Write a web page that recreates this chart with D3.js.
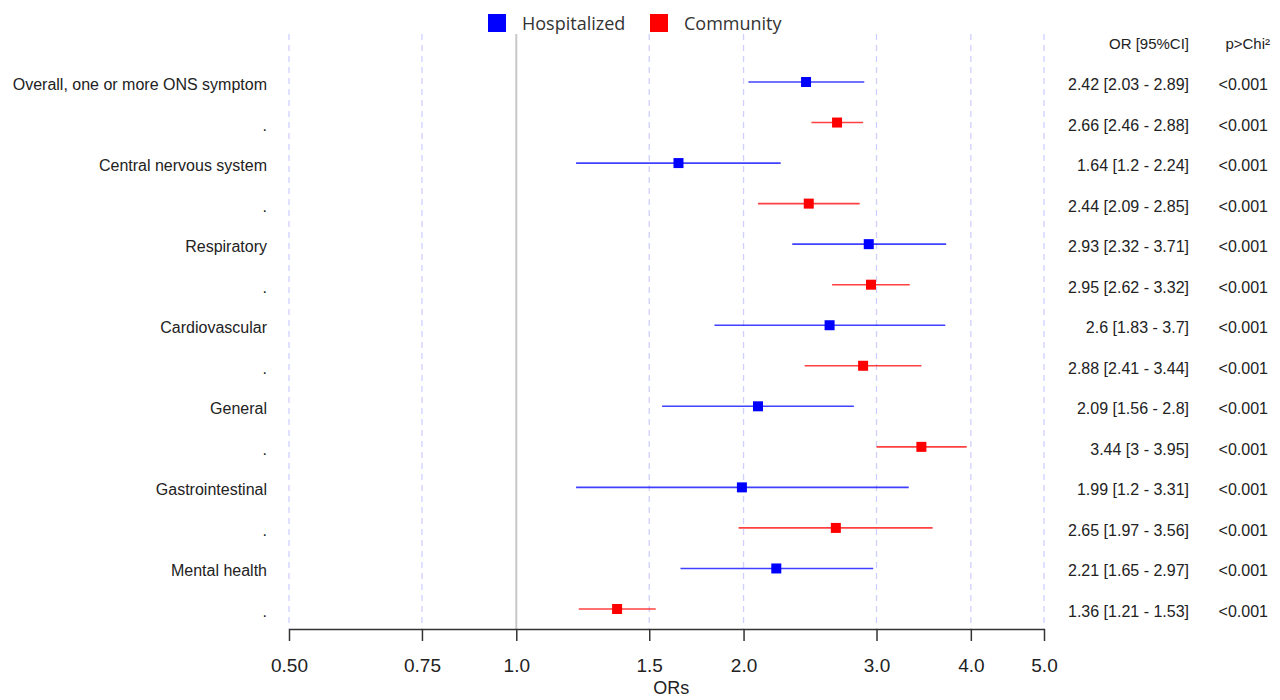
<!DOCTYPE html>
<html><head><meta charset="utf-8">
<script src="https://cdn.jsdelivr.net/npm/d3@7"></script>
<style>body{margin:0;background:#fff}svg{display:block}</style>
</head><body>
<svg id="c" width="1280" height="700"></svg>
<script>
const labels = ["Overall, one or more ONS symptom", ".", "Central nervous system", ".", "Respiratory", ".", "Cardiovascular", ".", "General", ".", "Gastrointestinal", ".", "Mental health", "."];
const groups = ["Hospitalized","Community","Hospitalized","Community","Hospitalized","Community","Hospitalized","Community","Hospitalized","Community","Hospitalized","Community","Hospitalized","Community"];
const orValues = [2.42, 2.66, 1.64, 2.44, 2.93, 2.95, 2.6, 2.88, 2.09, 3.44, 1.99, 2.65, 2.21, 1.36];
const ciLow = [2.03, 2.46, 1.2, 2.09, 2.32, 2.62, 1.83, 2.41, 1.56, 3, 1.2, 1.97, 1.65, 1.21];
const ciHigh = [2.89, 2.88, 2.24, 2.85, 3.71, 3.32, 3.7, 3.44, 2.8, 3.95, 3.31, 3.56, 2.97, 1.53];
const orText = ["2.42 [2.03 - 2.89]","2.66 [2.46 - 2.88]","1.64 [1.2 - 2.24]","2.44 [2.09 - 2.85]","2.93 [2.32 - 3.71]","2.95 [2.62 - 3.32]","2.6 [1.83 - 3.7]","2.88 [2.41 - 3.44]","2.09 [1.56 - 2.8]","3.44 [3 - 3.95]","1.99 [1.2 - 3.31]","2.65 [1.97 - 3.56]","2.21 [1.65 - 2.97]","1.36 [1.21 - 1.53]"];
const pText = ["<0.001","<0.001","<0.001","<0.001","<0.001","<0.001","<0.001","<0.001","<0.001","<0.001","<0.001","<0.001","<0.001","<0.001"];
const tickValues = [0.5, 0.75, 1.0, 1.5, 2.0, 3.0, 4.0, 5.0];
const tickLabels = ["0.50","0.75","1.0","1.5","2.0","3.0","4.0","5.0"];
const legendItems = ["Hospitalized","Community"];
const colors = {Hospitalized:"#0000ff", Community:"#ff0000"};

const svg = d3.select("#c");
const font = "'Liberation Sans', Arial, sans-serif";
const x = d3.scaleLog().domain([0.5, 5]).range([289, 1044]);
const y = d3.scalePoint().domain(d3.range(labels.length)).range([82, 609]);

// grid
svg.append("g").selectAll("line").data(tickValues.filter(v => v !== 1)).join("line")
  .attr("x1", d => x(d)).attr("x2", d => x(d)).attr("y1", 34).attr("y2", 629)
  .attr("stroke", "#d0d0ff").attr("stroke-width", 1.3).attr("stroke-dasharray", "6,5");
svg.append("line").attr("x1", x(1)).attr("x2", x(1)).attr("y1", 34).attr("y2", 629)
  .attr("stroke", "#c8c8c8").attr("stroke-width", 2);

// axis
const axis = d3.axisBottom(x).tickValues(tickValues).tickFormat((d,i) => tickLabels[i]).tickSize(12).tickSizeOuter(0).tickPadding(18);
const ag = svg.append("g").attr("transform", "translate(0,629)").call(axis);
ag.select(".domain").attr("stroke", "#333").attr("stroke-width", 1.5);
ag.selectAll(".tick line").attr("stroke", "#333").attr("stroke-width", 1.5);
ag.selectAll(".tick text").attr("font-family", font).attr("font-size", 19).attr("fill", "#222");
svg.append("text").attr("x", x(1.5) + 22).attr("y", 694).attr("text-anchor", "middle")
  .attr("font-family", font).attr("font-size", 18).attr("fill", "#222").text("ORs");

// CIs and points
const rows = d3.range(labels.length);
svg.append("g").selectAll("line").data(rows).join("line")
  .attr("x1", i => x(ciLow[i])).attr("x2", i => x(ciHigh[i]))
  .attr("y1", i => y(i)).attr("y2", i => y(i))
  .attr("stroke", i => colors[groups[i]]).attr("stroke-opacity", 0.75).attr("stroke-width", 1.6);
svg.append("g").selectAll("rect").data(rows).join("rect")
  .attr("x", i => x(orValues[i]) - 5).attr("y", i => y(i) - 5).attr("width", 10).attr("height", 10)
  .attr("fill", i => colors[groups[i]]);

// row labels
svg.append("g").selectAll("text").data(rows).join("text")
  .attr("x", 267).attr("y", i => y(i) + 8).attr("text-anchor", "end")
  .attr("font-family", font).attr("font-size", 16).attr("fill", "#222").text(i => labels[i]);

// right text columns
svg.append("text").attr("x", 1189).attr("y", 49).attr("text-anchor", "end")
  .attr("font-family", font).attr("font-size", 15).attr("fill", "#222").text("OR [95%CI]");
svg.append("text").attr("x", 1270).attr("y", 49).attr("text-anchor", "end")
  .attr("font-family", font).attr("font-size", 15).attr("fill", "#222").text("p>Chi²");
svg.append("g").selectAll("text").data(rows).join("text")
  .attr("x", 1189).attr("y", i => y(i) + 8).attr("text-anchor", "end")
  .attr("font-family", font).attr("font-size", 16).attr("fill", "#222").text(i => orText[i]);
svg.append("g").selectAll("text").data(rows).join("text")
  .attr("x", 1268).attr("y", i => y(i) + 8).attr("text-anchor", "end")
  .attr("font-family", font).attr("font-size", 16).attr("fill", "#222").text(i => pText[i]);

// legend
const lx = [488, 650];
const lg = svg.append("g").selectAll("g").data(legendItems).join("g")
  .attr("transform", (d,i) => `translate(${lx[i]},14)`);
lg.append("rect").attr("width", 18).attr("height", 18).attr("fill", d => colors[d]);
lg.append("text").attr("x", 34).attr("y", 16).attr("font-family", "'Open Sans', sans-serif")
  .attr("font-size", 18).attr("fill", "#333").text(d => d);
</script>
</body></html>
